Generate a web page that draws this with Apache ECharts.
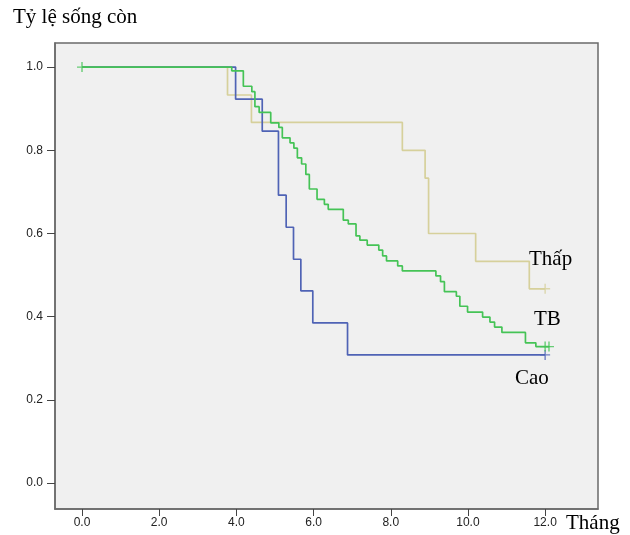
<!DOCTYPE html>
<html>
<head>
<meta charset="utf-8">
<script src="https://cdn.jsdelivr.net/npm/echarts@6/dist/echarts.min.js"></script>
<style>
html,body{margin:0;padding:0;background:#fff;}
#chart{width:630px;height:535px;}
</style>
</head>
<body>
<div id="chart"></div>
<script>
// ---- Data ----
var xTickValues = [0, 2, 4, 6, 8, 10, 12];
var yTickValues = [0, 0.2, 0.4, 0.6, 0.8, 1.0];

// Thấp (low)
var tanTimes = [0, 3.77, 4.39, 8.30, 8.89, 8.98, 10.20, 11.59, 12.0];
var tanSurv  = [1.0, 0.933, 0.867, 0.800, 0.733, 0.600, 0.533, 0.467, 0.467];
var tanCensTimes = [12.0];
var tanCensSurv  = [0.467];

// Cao (high)
var blueTimes = [0, 3.98, 4.67, 5.09, 5.29, 5.48, 5.67, 5.98, 6.88, 12.0];
var blueSurv  = [1.0, 0.923, 0.846, 0.692, 0.615, 0.538, 0.462, 0.385, 0.308, 0.308];
var blueCensTimes = [12.0];
var blueCensSurv  = [0.308];

// TB (medium)
var greenTimes = [0, 3.88, 4.18, 4.40, 4.48, 4.59, 4.89, 5.10, 5.19, 5.39, 5.49,
  5.58, 5.69, 5.80, 5.89, 6.09, 6.28, 6.38, 6.77, 6.90, 7.10, 7.20, 7.39, 7.69,
  7.79, 7.89, 8.18, 8.30, 9.17, 9.29, 9.39, 9.70, 9.79, 9.99, 10.38, 10.57,
  10.69, 10.88, 11.49, 11.76, 12.1];
var greenSurv = [1.0, 0.991, 0.954, 0.941, 0.905, 0.891, 0.866, 0.855, 0.830, 0.818, 0.805,
  0.782, 0.767, 0.742, 0.707, 0.682, 0.670, 0.658, 0.632, 0.623, 0.594, 0.584, 0.572, 0.560,
  0.546, 0.534, 0.522, 0.510, 0.498, 0.484, 0.460, 0.449, 0.425, 0.411, 0.399, 0.387,
  0.375, 0.362, 0.337, 0.328, 0.328];
var greenCensTimes = [0, 12.0, 12.1];
var greenCensSurv  = [1.0, 0.328, 0.328];

var groupNames = ['Thấp', 'TB', 'Cao'];
var yAxisTitle = 'Tỷ lệ sống còn';
var xAxisTitle = 'Tháng';

// ---- Build ----
function zip(a, b) { return a.map(function (v, i) { return [v, b[i]]; }); }

var colTan = '#d6d09b', colBlue = '#4f63b5', colGreen = '#45c356';
var plusPath = 'path://M4.3,0H5.7V4.3H10V5.7H5.7V10H4.3V5.7H0V4.3H4.3Z';

function stepSeries(name, t, s, col, z) {
  return {
    name: name, type: 'line', step: 'end', data: zip(t, s),
    showSymbol: false, symbol: 'none', z: z,
    lineStyle: { color: col, width: 1.7 }, animation: false, silent: true
  };
}
function censSeries(name, t, s, col, z) {
  return {
    name: name + ' censored', type: 'scatter', data: zip(t, s),
    symbol: plusPath, symbolSize: 10, z: z,
    itemStyle: { color: col }, animation: false, silent: true
  };
}

var axisFont = { fontFamily: 'Liberation Sans, Arial, sans-serif', fontSize: 12, color: '#222' };
var serif = 'Liberation Serif, Times New Roman, serif';

var chart = echarts.init(document.getElementById('chart'), null, { renderer: 'canvas' });
chart.setOption({
  backgroundColor: '#ffffff',
  animation: false,
  grid: {
    left: 55, right: 32, top: 43, bottom: 26,
    show: true, backgroundColor: '#f0f0f0', borderColor: '#6a6a6a', borderWidth: 1.5
  },
  xAxis: {
    type: 'value', min: -0.7, max: 13.37,
    splitLine: { show: false },
    axisLine: { show: true, onZero: false, lineStyle: { color: '#6a6a6a', width: 1.5 } },
    axisTick: { show: true, customValues: xTickValues, length: 7, lineStyle: { color: '#444' } },
    axisLabel: Object.assign({ customValues: xTickValues, margin: 8,
      formatter: function (v) { return v.toFixed(1); } }, axisFont)
  },
  yAxis: {
    type: 'value', min: -0.0625, max: 1.058,
    splitLine: { show: false },
    axisLine: { show: true, onZero: false, lineStyle: { color: '#6a6a6a', width: 1.5 } },
    axisTick: { show: true, customValues: yTickValues, length: 8, lineStyle: { color: '#444' } },
    axisLabel: Object.assign({ customValues: yTickValues, margin: 12,
      formatter: function (v) { return v.toFixed(1); } }, axisFont)
  },
  series: [
    stepSeries(groupNames[0], tanTimes, tanSurv, colTan, 2),
    stepSeries(groupNames[2], blueTimes, blueSurv, colBlue, 3),
    stepSeries(groupNames[1], greenTimes, greenSurv, colGreen, 4),
    censSeries(groupNames[0], tanCensTimes, tanCensSurv, colTan, 5),
    censSeries(groupNames[2], blueCensTimes, blueCensSurv, colBlue, 5),
    censSeries(groupNames[1], greenCensTimes, greenCensSurv, colGreen, 6)
  ],
  graphic: [
    { type: 'text', left: 13, top: 7, style: { text: yAxisTitle, font: '21px ' + serif, fill: '#000' } },
    { type: 'text', left: 566, top: 513, style: { text: xAxisTitle, font: '21px ' + serif, fill: '#000' } },
    { type: 'text', left: 529, top: 249, z: 10, style: { text: groupNames[0], font: '21px ' + serif, fill: '#000' } },
    { type: 'text', left: 534, top: 309, z: 10, style: { text: groupNames[1], font: '21px ' + serif, fill: '#000' } },
    { type: 'text', left: 515, top: 368, z: 10, style: { text: groupNames[2], font: '21px ' + serif, fill: '#000' } }
  ]
});
</script>
</body>
</html>
